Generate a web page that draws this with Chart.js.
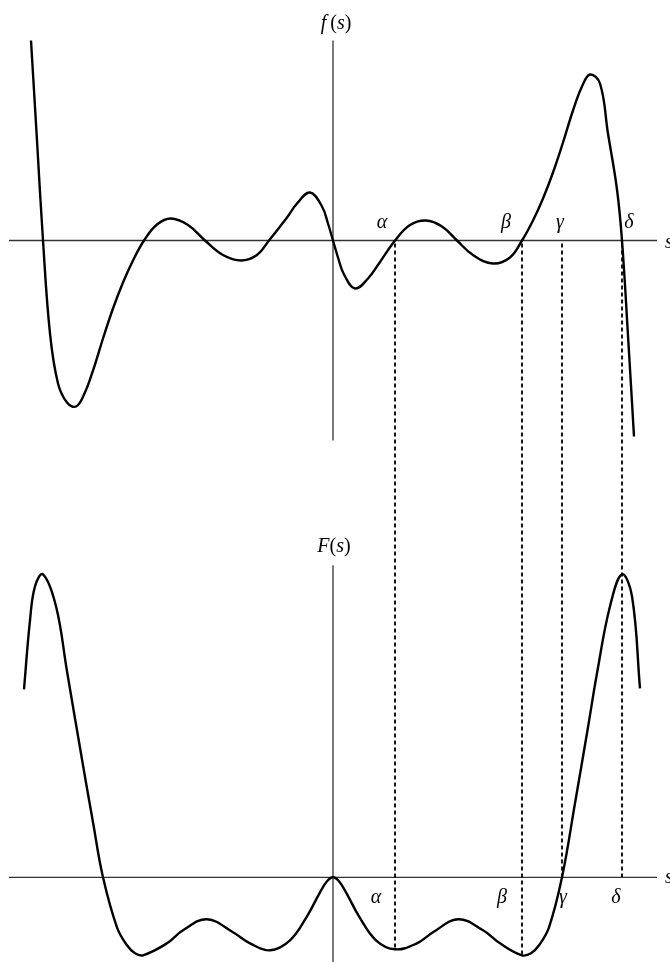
<!DOCTYPE html>
<html>
<head>
<meta charset="utf-8">
<script src="https://cdn.jsdelivr.net/npm/chart.js@4/dist/chart.umd.min.js"></script>
<style>
  body { margin: 0; background: #fff; }
  #wrap { width: 670px; height: 962px; }
</style>
</head>
<body>
<div id="wrap"><canvas id="fig" width="670" height="962"></canvas></div>
<script>
// f(s), top curve
const sTop = [-3.02, -2.96, -2.90, -2.83, -2.75, -2.66, -2.57, -2.49, -2.40, -2.30, -2.20, -2.10, -2.00, -1.89,
              -1.76, -1.62, -1.45, -1.28, -1.10, -0.92, -0.76, -0.64, -0.46, -0.36, -0.23, -0.11, -0.05, 0,
              0.05, 0.11, 0.22, 0.35, 0.46, 0.62, 0.77, 0.93, 1.09, 1.24, 1.40, 1.60, 1.77, 1.89,
              2.00, 2.10, 2.20, 2.30, 2.40, 2.49, 2.57, 2.67, 2.75, 2.84, 2.89, 2.95, 3.01];
const fTop = [2.00, 1.00, 0, -0.93, -1.43, -1.62, -1.66, -1.54, -1.30, -0.98, -0.68, -0.42, -0.20, 0,
              0.16, 0.22, 0.155, 0, -0.145, -0.20, -0.145, 0, 0.23, 0.37, 0.48, 0.34, 0.17, 0,
              -0.17, -0.34, -0.48, -0.38, -0.23, 0, 0.155, 0.20, 0.14, 0, -0.145, -0.23, -0.17, 0,
              0.20, 0.42, 0.68, 0.98, 1.30, 1.54, 1.66, 1.57, 1.07, 0.51, 0, -0.95, -1.96];

// F(s), bottom curve
const sBot = [-3.09, -3.03, -2.98, -2.90, -2.77, -2.66, -2.50, -2.40, -2.30, -2.16, -2.06, -1.98, -1.90,
              -1.66, -1.50, -1.26, -1.00, -0.83, -0.63, -0.43, -0.26, -0.13, -0.06, 0,
              0.06, 0.13, 0.26, 0.43, 0.62, 0.84, 1.00, 1.25, 1.50, 1.67, 1.89,
              1.98, 2.06, 2.16, 2.29, 2.42, 2.55, 2.64, 2.77, 2.89, 2.99, 3.07];
const FBot = [1.88, 2.57, 2.91, 3.03, 2.71, 2.06, 1.12, 0.55, 0, -0.50, -0.68, -0.76, -0.78,
              -0.66, -0.53, -0.42, -0.55, -0.66, -0.73, -0.63, -0.39, -0.15, -0.04, 0,
              -0.04, -0.15, -0.39, -0.63, -0.72, -0.66, -0.55, -0.42, -0.53, -0.66, -0.78,
              -0.76, -0.68, -0.50, 0, 0.74, 1.50, 2.04, 2.71, 3.03, 2.81, 1.89];

// marked points alpha..delta and where their dashed lines stop on F
const markNames = ['α', 'β', 'γ', 'δ'];
const markS = [0.62, 1.89, 2.29, 2.89];
const markEndF = [-0.72, -0.78, 0, 0];

// label offsets in px (styling only)
const topLabelDx = [-13, -16, -2, 7];
const botLabelDx = [-19, -20, 1, -6];

const axisS = [-3.24, 3.24];
const axisTopF = [-2.0, 2.0];
const axisBotF = 3.12;

const serif = '"Liberation Serif", "DejaVu Serif", serif';

// draws "f(s)" style text: letters italic, brackets upright
function mathText(ctx, parts, cx, cy) {
  let w = 0;
  parts.forEach(p => { ctx.font = p[1] + ' 20px ' + serif; w += ctx.measureText(p[0]).width; });
  let x0 = cx - w / 2;
  ctx.textAlign = 'left';
  parts.forEach(p => {
    ctx.font = p[1] + ' 20px ' + serif;
    ctx.fillText(p[0], x0, cy);
    x0 += ctx.measureText(p[0]).width;
  });
}

const drawBits = {
  id: 'drawBits',
  beforeDatasetsDraw(chart) {
    const ctx = chart.ctx;
    const x = chart.scales.x, yt = chart.scales.yTop, yb = chart.scales.yBot;
    ctx.save();
    // axes
    ctx.strokeStyle = '#333';
    ctx.lineWidth = 1.3;
    ctx.beginPath();
    ctx.moveTo(x.getPixelForValue(axisS[0]), yt.getPixelForValue(0));
    ctx.lineTo(x.getPixelForValue(axisS[1]), yt.getPixelForValue(0));
    ctx.moveTo(x.getPixelForValue(0), yt.getPixelForValue(axisTopF[1]));
    ctx.lineTo(x.getPixelForValue(0), yt.getPixelForValue(axisTopF[0]));
    ctx.moveTo(x.getPixelForValue(axisS[0]), yb.getPixelForValue(0));
    ctx.lineTo(x.getPixelForValue(axisS[1]), yb.getPixelForValue(0));
    ctx.moveTo(x.getPixelForValue(0), yb.getPixelForValue(axisBotF));
    ctx.lineTo(x.getPixelForValue(0), chart.chartArea.bottom);
    ctx.stroke();

    // dashed drop lines
    ctx.strokeStyle = '#000';
    ctx.lineWidth = 1.8;
    ctx.setLineDash([4, 3]);
    markS.forEach((s, i) => {
      const px = Math.round(x.getPixelForValue(s));
      ctx.beginPath();
      ctx.moveTo(px, yt.getPixelForValue(0) + 3);
      ctx.lineTo(px, yb.getPixelForValue(markEndF[i]));
      ctx.stroke();
    });
    ctx.restore();
  },
  afterDatasetsDraw(chart) {
    const ctx = chart.ctx;
    const x = chart.scales.x, yt = chart.scales.yTop, yb = chart.scales.yBot;
    ctx.save();
    ctx.fillStyle = '#000';
    ctx.font = 'italic 20px ' + serif;
    ctx.textAlign = 'center';
    ctx.textBaseline = 'middle';
    markNames.forEach((n, i) => {
      const px = x.getPixelForValue(markS[i]);
      ctx.fillText(n, px + topLabelDx[i], yt.getPixelForValue(0) - 18);
      ctx.fillText(n, px + botLabelDx[i], yb.getPixelForValue(0) + 20);
    });
    ctx.textAlign = 'left';
    ctx.fillText('s', x.getPixelForValue(axisS[1]) + 8, yt.getPixelForValue(0) + 2);
    ctx.fillText('s', x.getPixelForValue(axisS[1]) + 8, yb.getPixelForValue(0));
    const ox = x.getPixelForValue(0);
    mathText(ctx, [['f', 'italic'], ['\u2009(', 'normal'], ['s', 'italic'], [')', 'normal']],
             ox + 3, yt.getPixelForValue(axisTopF[1]) - 17);
    mathText(ctx, [['F', 'italic'], ['(', 'normal'], ['s', 'italic'], [')', 'normal']],
             ox + 1, yb.getPixelForValue(axisBotF) - 19);
    ctx.restore();
  }
};

const curve = {
  borderColor: '#000',
  borderWidth: 2.4,
  pointRadius: 0,
  fill: false,
  tension: 0.4
};

new Chart(document.getElementById('fig'), {
  type: 'line',
  data: {
    datasets: [
      Object.assign({ label: 'f(s)', yAxisID: 'yTop', data: sTop.map((s, i) => ({ x: s, y: fTop[i] })) }, curve),
      Object.assign({ label: 'F(s)', yAxisID: 'yBot', data: sBot.map((s, i) => ({ x: s, y: FBot[i] })) }, curve)
    ]
  },
  options: {
    responsive: false,
    devicePixelRatio: 1,
    animation: false,
    layout: { padding: 0 },
    plugins: { legend: { display: false }, tooltip: { enabled: false } },
    scales: {
      x: { type: 'linear', min: -3.33, max: 3.37, display: false },
      yTop: { type: 'linear', min: -7.215, max: 2.405, display: false },
      yBot: { type: 'linear', min: -0.847, max: 8.773, display: false }
    }
  },
  plugins: [drawBits]
});
</script>
</body>
</html>
